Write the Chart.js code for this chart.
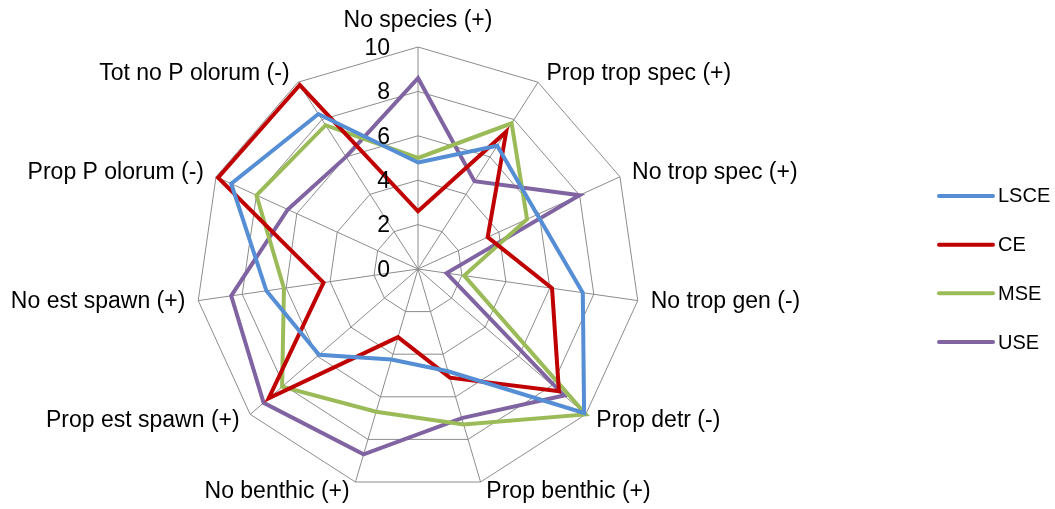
<!DOCTYPE html>
<html>
<head>
<meta charset="utf-8">
<title>Radar</title>
<script src="https://cdn.jsdelivr.net/npm/chart.js"></script>
<style>
    html, body { margin: 0; padding: 0; background: #fff; }
    #radarChart { display: block; }
</style>
</head>
<body>
<canvas id="radarChart" width="1055" height="509"></canvas>
<script>
const categories = [
    'No species (+)', 'Prop trop spec (+)', 'No trop spec (+)', 'No trop gen (-)',
    'Prop detr (-)', 'Prop benthic (+)', 'No benthic (+)', 'Prop est spawn (+)',
    'No est spawn (+)', 'Prop P olorum (-)', 'Tot no P olorum (-)'
];
const lsce = [4.8, 6.6, 5.9, 7.5, 9.9, 4.8, 4.25, 5.9, 6.9, 9.25, 8.3];
const ce   = [2.6, 7.35, 3.45, 6.1, 8.4, 5.1, 3.2, 8.9, 4.3, 9.9, 9.85];
const mse  = [5.0, 7.8, 5.4, 2.1, 10, 7.3, 6.7, 8.1, 6.1, 8.0, 7.7];
const use  = [8.6, 4.7, 8.0, 1.3, 8.7, 7.0, 8.7, 9.2, 8.5, 6.45, 6.0];
const tickValues = [0, 2, 4, 6, 8, 10];

(function() {
    'use strict';

    const FONT = '"Liberation Sans", Arial, sans-serif';
    const gridColor = '#8c8c8c';

    function series(label, data, color) {
        return {
            label: label,
            data: data,
            borderColor: color,
            backgroundColor: color,
            borderWidth: 4,
            fill: false,
            pointRadius: 0,
            pointHoverRadius: 0,
            tension: 0
        };
    }

    // ticks, axis names and legend are drawn by hand to sit where Excel puts them
    const labelsPlugin = {
        id: 'excelLabels',
        afterDraw(chart) {
            const ctx = chart.ctx;
            const scale = chart.scales.r;
            ctx.save();
            ctx.fillStyle = '#000';

            ctx.font = '23px ' + FONT;
            ctx.textAlign = 'right';
            ctx.textBaseline = 'middle';
            tickValues.forEach(function(v) {
                const d = scale.getDistanceFromCenterForValue(v);
                ctx.fillText(String(v), scale.xCenter - 28, scale.yCenter - d + 1.5);
            });

            categories.forEach(function(text, i) {
                const p = scale.getPointPosition(i, scale.drawingArea + 10);
                if (i === 0) {
                    ctx.textAlign = 'center';
                    ctx.fillText(text, p.x, p.y - 16);
                    return;
                }
                const right = p.x > scale.xCenter;
                ctx.textAlign = right ? 'left' : 'right';
                ctx.fillText(text, p.x + (right ? 3 : -3), p.y);
            });

            ctx.font = '20px ' + FONT;
            ctx.textAlign = 'left';
            ctx.lineCap = 'round';
            ctx.lineWidth = 4;
            const n = chart.data.datasets.length;
            chart.data.datasets.forEach(function(ds, k) {
                const y = scale.yCenter + (k - (n - 1) / 2) * 48.7;
                const x = chart.width - 116;
                ctx.strokeStyle = ds.borderColor;
                ctx.beginPath();
                ctx.moveTo(x, y);
                ctx.lineTo(x + 54, y);
                ctx.stroke();
                ctx.fillText(ds.label, x + 59, y + 1);
            });
            ctx.restore();
        }
    };

    new Chart(document.getElementById('radarChart'), {
        type: 'radar',
        data: {
            labels: categories,
            datasets: [
                series('LSCE', lsce, '#558ed5'),
                series('CE', ce, '#c00000'),
                series('MSE', mse, '#9bbb59'),
                series('USE', use, '#8064a2')
            ]
        },
        options: {
            responsive: false,
            animation: false,
            devicePixelRatio: 1,
            layout: {
                padding: { left: 196, right: 414, top: 47, bottom: 17 }
            },
            elements: {
                line: { borderJoinStyle: 'miter' }
            },
            scales: {
                r: {
                    min: 0,
                    max: 10,
                    ticks: { stepSize: 2, display: false },
                    grid: { color: gridColor, lineWidth: 1 },
                    angleLines: { color: gridColor, lineWidth: 1 },
                    pointLabels: { display: false }
                }
            },
            plugins: {
                legend: { display: false },
                tooltip: { enabled: false }
            }
        },
        plugins: [labelsPlugin]
    });
})();
</script>
</body>
</html>
